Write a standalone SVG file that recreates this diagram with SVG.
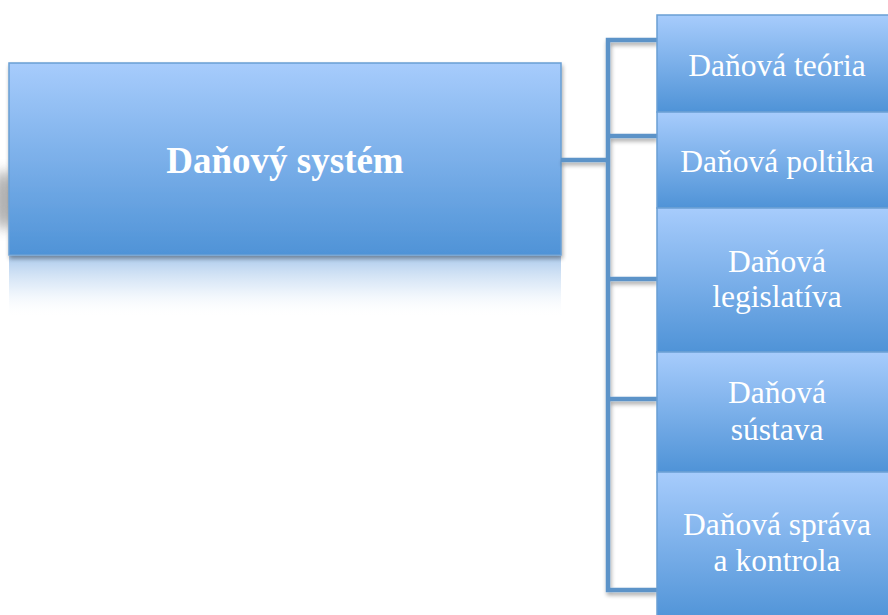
<svg xmlns="http://www.w3.org/2000/svg" width="888" height="615" viewBox="0 0 888 615">
<defs>
<linearGradient id="g" x1="0" y1="0" x2="0" y2="1">
<stop offset="0" stop-color="#a7ccfc"/>
<stop offset="1" stop-color="#4f93d7"/>
</linearGradient>
<linearGradient id="refl" x1="0" y1="0" x2="0" y2="1">
<stop offset="0" stop-color="#8fb8e6" stop-opacity="0.75"/>
<stop offset="0.5" stop-color="#c4daf2" stop-opacity="0.45"/>
<stop offset="1" stop-color="#ffffff" stop-opacity="0"/>
</linearGradient>
<filter id="sh" x="-20%" y="-20%" width="140%" height="140%">
<feGaussianBlur in="SourceAlpha" stdDeviation="2"/>
<feOffset dx="1" dy="3"/>
<feComponentTransfer><feFuncA type="linear" slope="0.35"/></feComponentTransfer>
<feMerge><feMergeNode/><feMergeNode in="SourceGraphic"/></feMerge>
</filter>
<filter id="blur" x="-50%" y="-50%" width="200%" height="200%">
<feGaussianBlur stdDeviation="6"/>
</filter>
</defs>
<style>
.box{fill:url(#g);stroke:#6a9fd4;stroke-width:1.5}
.t{font-family:"Liberation Serif","Times New Roman",serif;fill:#ffffff;font-size:31.5px;text-anchor:middle}
.m{font-family:"Liberation Serif","Times New Roman",serif;fill:#ffffff;font-size:37px;font-weight:bold;text-anchor:middle}
.c{fill:none;stroke:#5b93c8;stroke-width:4.5;stroke-linejoin:miter}
</style>
<rect x="0" y="0" width="888" height="615" fill="#ffffff"/>
<g id="main">
<ellipse cx="4" cy="200" rx="10" ry="30" fill="#8a8a8a" opacity="0.7" filter="url(#blur)"/>
<rect x="9" y="256" width="552" height="62" fill="url(#refl)"/>
<rect class="box" x="9" y="63" width="552" height="192" filter="url(#sh)"/>
<text class="m" x="285" y="173">Daňový systém</text>
</g>
<g id="connectors" filter="url(#sh)">
<path class="c" d="M561 160 H608"/>
<path class="c" d="M657 40 H608 V590 H657"/>
<path class="c" d="M608 136 H657"/>
<path class="c" d="M608 279 H657"/>
<path class="c" d="M608 399 H657"/>
</g>
<g id="n1">
<rect class="box" x="657" y="15" width="240" height="97"/>
<text class="t" x="777" y="76">Daňová teória</text>
</g>
<g id="n2">
<rect class="box" x="657" y="112" width="240" height="96"/>
<text class="t" x="777" y="172">Daňová poltika</text>
</g>
<g id="n3">
<rect class="box" x="657" y="208" width="240" height="144"/>
<text class="t" x="777" y="272">Daňová</text>
<text class="t" x="777" y="307">legislatíva</text>
</g>
<g id="n4">
<rect class="box" x="657" y="352" width="240" height="120"/>
<text class="t" x="777" y="403">Daňová</text>
<text class="t" x="777" y="440">sústava</text>
</g>
<g id="n5">
<rect class="box" x="657" y="472" width="240" height="150"/>
<text class="t" x="777" y="535">Daňová správa</text>
<text class="t" x="777" y="571">a kontrola</text>
</g>
</svg>
